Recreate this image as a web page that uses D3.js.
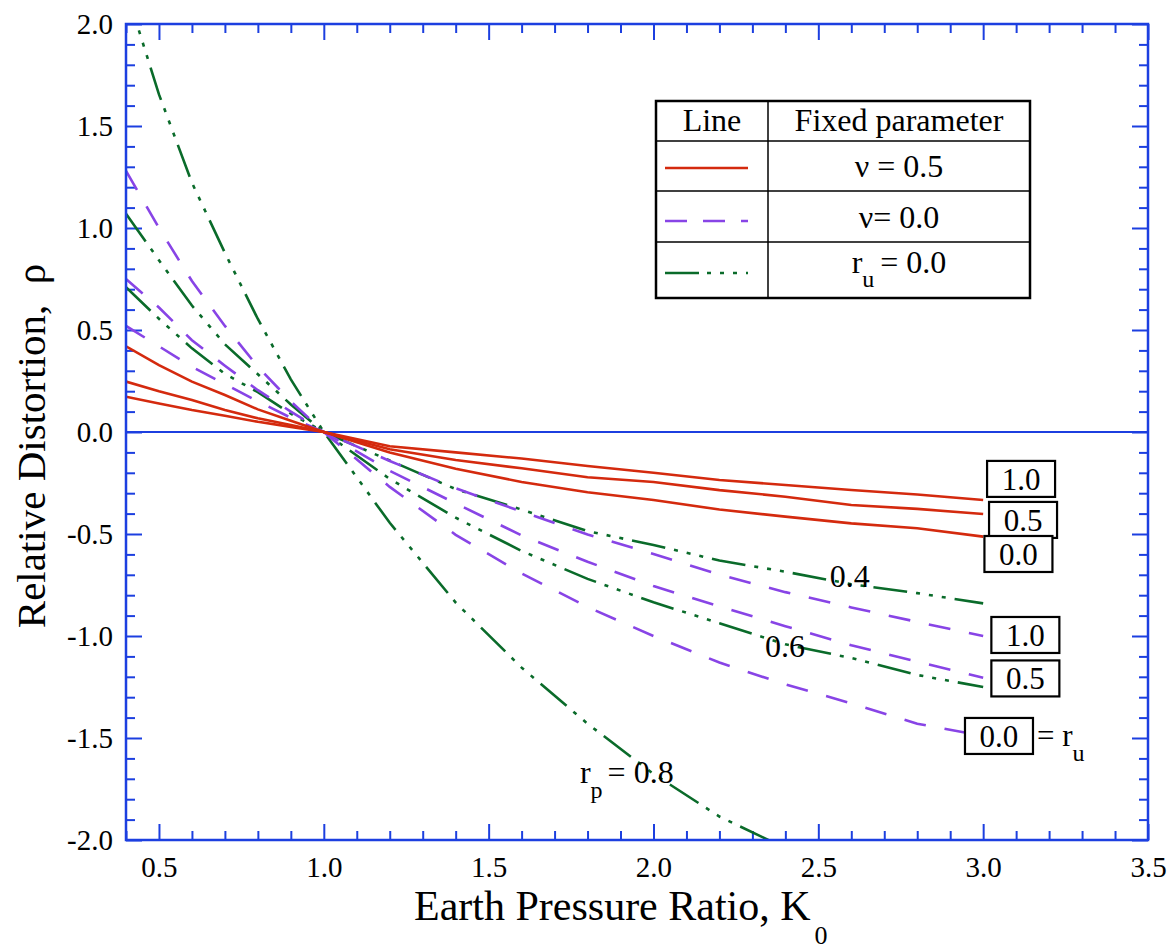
<!DOCTYPE html>
<html>
<head>
<meta charset="utf-8">
<title>Relative Distortion vs Earth Pressure Ratio</title>
<script src="https://cdn.jsdelivr.net/npm/d3@7"></script>
<style>
  body { margin: 0; background: #fff; }
  svg text { font-family: 'Liberation Serif', 'Times New Roman', Times, serif; fill: #000; }
</style>
</head>
<body>
<div id="viz"></div>
<script>

// K0 values where the curves were read
var k0 = [0.4, 0.5, 0.6, 0.7, 0.8, 0.9, 1.0, 1.2, 1.4, 1.6, 1.8, 2.0, 2.2, 2.4, 2.6, 2.8, 3.0];

// nu = 0.5 (solid red), r_u = 1.0 / 0.5 / 0.0
var nu05_ru10 = [0.173, 0.14, 0.108, 0.08, 0.05, 0.025, 0, -0.07, -0.10, -0.13, -0.167, -0.20, -0.235, -0.26, -0.284, -0.306, -0.333];
var nu05_ru05 = [0.247, 0.20, 0.157, 0.108, 0.067, 0.034, 0, -0.085, -0.137, -0.178, -0.222, -0.245, -0.285, -0.317, -0.358, -0.377, -0.402];
var nu05_ru00 = [0.42, 0.328, 0.247, 0.181, 0.111, 0.055, 0, -0.10, -0.18, -0.245, -0.295, -0.333, -0.38, -0.415, -0.448, -0.472, -0.513];

// nu = 0.0 (dashed purple), r_u = 1.0 / 0.5 / 0.0
var nu00_ru10 = [0.52, 0.42, 0.32, 0.235, 0.15, 0.07, 0, -0.142, -0.276, -0.39, -0.502, -0.598, -0.699, -0.785, -0.86, -0.931, -1.0];
var nu00_ru05 = [0.75, 0.61, 0.45, 0.325, 0.205, 0.10, 0, -0.19, -0.35, -0.507, -0.636, -0.755, -0.855, -0.952, -1.045, -1.126, -1.205];
var nu00_ru00 = [1.28, 1.0, 0.74, 0.52, 0.32, 0.15, 0, -0.269, -0.504, -0.693, -0.858, -1.0, -1.13, -1.237, -1.33, -1.43, -1.49];

// r_u = 0.0 (dash-dot-dot green), r_p = 0.4 / 0.6 / 0.8  (0.8 leaves the frame)
var ru00_rp04 = [0.71, 0.555, 0.41, 0.285, 0.195, 0.09, 0, -0.14, -0.28, -0.38, -0.486, -0.554, -0.63, -0.685, -0.746, -0.79, -0.84];
var ru00_rp06 = [1.07, 0.842, 0.62, 0.43, 0.283, 0.135, 0, -0.23, -0.42, -0.583, -0.72, -0.835, -0.937, -1.041, -1.108, -1.191, -1.25];
var ru00_rp08 = [2.17, 1.655, 1.222, 0.878, 0.554, 0.258, 0, -0.445, -0.836, -1.155, -1.43, -1.676, -1.885, -2.04, null, null, null];

// right-hand box labels (r_u)
var boxLabels = ['1.0', '0.5', '0.0', '1.0', '0.5', '0.0'];

var xTickLabels = ['0.5', '1.0', '1.5', '2.0', '2.5', '3.0', '3.5'];
var yTickLabels = ['-2.0', '-1.5', '-1.0', '-0.5', '0.0', '0.5', '1.0', '1.5', '2.0'];

var SERIF = "'Liberation Serif', 'Times New Roman', Times, serif";
var RED = '#d42a0e', PURPLE = '#8844e6', GREEN = '#0a6b2a', BLUE = '#1c3fe0';

var series = [
  {vals: ru00_rp08, color: GREEN, dash: '34,9,4,9,4,9,4,9'},
  {vals: ru00_rp06, color: GREEN, dash: '34,9,4,9,4,9,4,9'},
  {vals: ru00_rp04, color: GREEN, dash: '34,9,4,9,4,9,4,9'},
  {vals: nu00_ru00, color: PURPLE, dash: '22,19'},
  {vals: nu00_ru05, color: PURPLE, dash: '22,19'},
  {vals: nu00_ru10, color: PURPLE, dash: '22,19'},
  {vals: nu05_ru00, color: RED, dash: null},
  {vals: nu05_ru05, color: RED, dash: null},
  {vals: nu05_ru10, color: RED, dash: null}
];

var margin = {top: 24, right: 26, bottom: 112, left: 126},
    width = 1174 - margin.left - margin.right,
    height = 952 - margin.top - margin.bottom;

var x = d3.scaleLinear().domain([0.4, 3.5]).range([0, width]);
var y = d3.scaleLinear().domain([-2, 2]).range([height, 0]);

var xMajor = xTickLabels.map(Number);
var yMajor = yTickLabels.map(Number);
var xMinor = d3.range(4, 35).map(function(i){ return i / 10; })
               .filter(function(v){ return Math.round(v * 10) % 5 !== 0; });
var yMinor = d3.range(-19, 20).map(function(i){ return i / 10; })
               .filter(function(v){ return Math.round(v * 10) % 5 !== 0; });

var svg = d3.select('#viz').append('svg')
    .attr('width', 1174)
    .attr('height', 952)
    .attr('font-family', SERIF);

var g = svg.append('g')
    .attr('transform', 'translate(' + margin.left + ',' + margin.top + ')');

svg.append('defs').append('clipPath').attr('id', 'plotclip')
  .append('rect').attr('width', width).attr('height', height);

// ticks on all four sides, pointing inward
function styleAxis(sel) {
  sel.attr('font-family', SERIF).attr('font-size', 29);
  sel.select('.domain').remove();
  sel.selectAll('line').attr('stroke', BLUE).attr('stroke-width', 2);
  sel.selectAll('text').attr('font-family', SERIF).attr('font-size', 29).attr('fill', '#000');
}

g.append('g').attr('transform', 'translate(0,' + height + ')')
  .call(d3.axisBottom(x).tickValues(xMajor).tickSize(-16).tickSizeOuter(0).tickPadding(16)
        .tickFormat(function(d, i){ return xTickLabels[i]; }))
  .call(styleAxis);
g.append('g').attr('transform', 'translate(0,' + height + ')')
  .call(d3.axisBottom(x).tickValues(xMinor).tickSize(-9).tickSizeOuter(0).tickFormat(''))
  .call(styleAxis);
g.append('g')
  .call(d3.axisTop(x).tickValues(xMajor).tickSize(-16).tickSizeOuter(0).tickFormat(''))
  .call(styleAxis);
g.append('g')
  .call(d3.axisTop(x).tickValues(xMinor).tickSize(-9).tickSizeOuter(0).tickFormat(''))
  .call(styleAxis);

g.append('g')
  .call(d3.axisLeft(y).tickValues(yMajor).tickSize(-16).tickSizeOuter(0).tickPadding(13)
        .tickFormat(function(d, i){ return yTickLabels[i]; }))
  .call(styleAxis);
g.append('g')
  .call(d3.axisLeft(y).tickValues(yMinor).tickSize(-9).tickSizeOuter(0).tickFormat(''))
  .call(styleAxis);
g.append('g').attr('transform', 'translate(' + width + ',0)')
  .call(d3.axisRight(y).tickValues(yMajor).tickSize(-16).tickSizeOuter(0).tickFormat(''))
  .call(styleAxis);
g.append('g').attr('transform', 'translate(' + width + ',0)')
  .call(d3.axisRight(y).tickValues(yMinor).tickSize(-9).tickSizeOuter(0).tickFormat(''))
  .call(styleAxis);

// zero line
g.append('line')
  .attr('x1', 0).attr('x2', width)
  .attr('y1', y(0)).attr('y2', y(0))
  .attr('stroke', BLUE).attr('stroke-width', 2);

// curves
var line = d3.line()
  .defined(function(d){ return d[1] !== null; })
  .x(function(d){ return x(d[0]); })
  .y(function(d){ return y(d[1]); });

var curves = g.append('g').attr('clip-path', 'url(#plotclip)');
series.forEach(function(s) {
  curves.append('path')
    .datum(k0.map(function(k, i){ return [k, s.vals[i]]; }))
    .attr('d', line)
    .attr('fill', 'none')
    .attr('stroke', s.color)
    .attr('stroke-width', 2.6)
    .attr('stroke-dasharray', s.dash);
});

// frame
g.append('rect')
  .attr('width', width).attr('height', height)
  .attr('fill', 'none').attr('stroke', BLUE).attr('stroke-width', 2.5);

// curve annotations
g.append('text').attr('x', x(2.535)).attr('y', y(-0.76)).attr('font-size', 32).text('0.4');
g.append('text').attr('x', x(2.338)).attr('y', y(-1.103)).attr('font-size', 32).text('0.6');
var rp = g.append('text').attr('x', x(1.777)).attr('y', y(-1.72)).attr('font-size', 32);
rp.append('tspan').text('r');
rp.append('tspan').attr('dy', 15).attr('font-size', 24).text('p');
rp.append('tspan').attr('dy', -15).attr('dx', 5).text('= 0.8');

// boxed r_u labels at the right ends
var boxPos = [[3.115, -0.230], [3.121, -0.431], [3.107, -0.598], [3.128, -0.995], [3.128, -1.208], [3.048, -1.490]];
boxPos.forEach(function(p, i) {
  var bx = x(p[0]), by = y(p[1]);
  g.append('rect')
    .attr('x', bx - 34).attr('y', by - 18)
    .attr('width', 68).attr('height', 36)
    .attr('fill', '#fff').attr('stroke', '#000').attr('stroke-width', 2.2);
  g.append('text')
    .attr('x', bx).attr('y', by + 11)
    .attr('text-anchor', 'middle').attr('font-size', 31)
    .text(boxLabels[i]);
});
var ruText = g.append('text')
  .attr('x', x(3.048) + 38).attr('y', y(-1.490) + 10).attr('font-size', 31);
ruText.append('tspan').text('= r');
ruText.append('tspan').attr('dy', 15).attr('font-size', 24).text('u');

// legend table
var lg = svg.append('g').attr('transform', 'translate(656,101)');
lg.append('rect').attr('width', 374).attr('height', 197)
  .attr('fill', '#fff').attr('stroke', '#000').attr('stroke-width', 2.5);
lg.append('line').attr('x1', 112).attr('x2', 112).attr('y1', 0).attr('y2', 197)
  .attr('stroke', '#000').attr('stroke-width', 1.5);
[40, 90, 141].forEach(function(ry) {
  lg.append('line').attr('x1', 0).attr('x2', 374).attr('y1', ry).attr('y2', ry)
    .attr('stroke', '#000').attr('stroke-width', 1.5);
});
lg.append('text').attr('x', 56).attr('y', 30).attr('text-anchor', 'middle').attr('font-size', 32).text('Line');
lg.append('text').attr('x', 243).attr('y', 30).attr('text-anchor', 'middle').attr('font-size', 32).text('Fixed parameter');

var legendRows = [
  {color: RED, dash: null, ly: 67},
  {color: PURPLE, dash: '22,16', ly: 120},
  {color: GREEN, dash: '34,8,4,9,4,9,4,9', ly: 172}
];
legendRows.forEach(function(r) {
  lg.append('line').attr('x1', 9).attr('x2', 92).attr('y1', r.ly).attr('y2', r.ly)
    .attr('stroke', r.color).attr('stroke-width', 2.6).attr('stroke-dasharray', r.dash);
});
lg.append('text').attr('x', 243).attr('y', 76).attr('text-anchor', 'middle').attr('font-size', 32).text('\u03bd = 0.5');
lg.append('text').attr('x', 243).attr('y', 127).attr('text-anchor', 'middle').attr('font-size', 32).text('\u03bd= 0.0');
var lr = lg.append('text').attr('x', 243).attr('y', 172).attr('text-anchor', 'middle').attr('font-size', 32);
lr.append('tspan').text('r');
lr.append('tspan').attr('dy', 14).attr('font-size', 24).text('u');
lr.append('tspan').attr('dy', -14).attr('dx', 6).text('= 0.0');

// axis titles
var xt = svg.append('text').attr('x', 414).attr('y', 920).attr('font-size', 42);
xt.append('tspan').text('Earth Pressure Ratio, K');
xt.append('tspan').attr('dy', 24).attr('dx', 4).attr('font-size', 26).text('0');

svg.append('text')
  .attr('transform', 'translate(45,446) rotate(-90)')
  .attr('text-anchor', 'middle')
  .attr('font-size', 41)
  .text('Relative Distortion,\u00a0 \u03c1');

</script>
</body>
</html>
